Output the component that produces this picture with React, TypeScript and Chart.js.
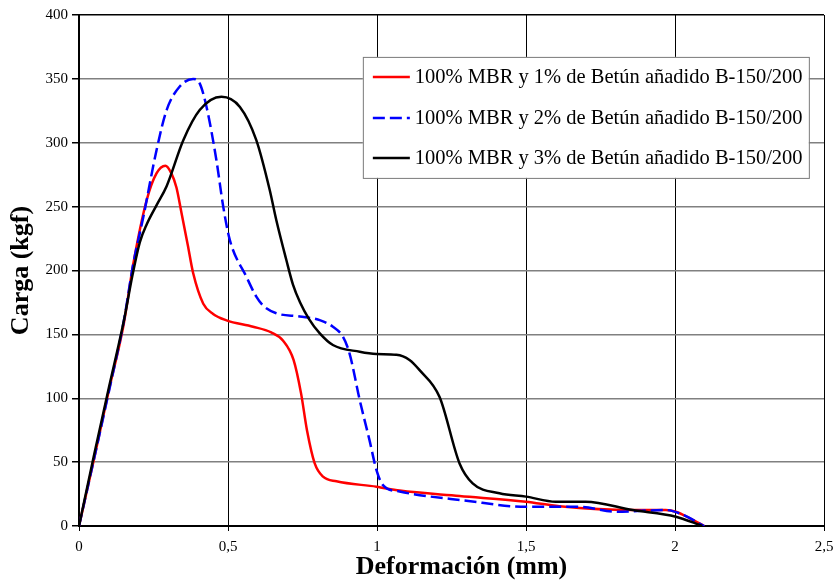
import React, { useEffect, useRef } from "react";
import { Chart, registerables } from "chart.js";
Chart.register(...registerables);

const seriesLabels = [
  "100% MBR y 1% de Betún añadido B-150/200",
  "100% MBR y 2% de Betún añadido B-150/200",
  "100% MBR y 3% de Betún añadido B-150/200",
];
const xTitle = "Deformación (mm)";
const yTitle = "Carga (kgf)";

const mbr1X = [0, 0.05, 0.1, 0.15, 0.182, 0.227, 0.26, 0.29, 0.31, 0.327, 0.344, 0.365, 0.383, 0.417, 0.45, 0.495, 0.584, 0.645, 0.685, 0.72, 0.745, 0.765, 0.791, 0.819, 0.864, 0.998, 1.076, 1.277, 1.5, 1.612, 1.858, 1.969, 2.003, 2.05, 2.098];
const mbr1Y = [0, 52, 106, 158, 205, 255, 276, 282, 276, 265, 245, 220, 198, 174, 166, 161, 156, 151.5, 145, 130, 104, 75, 49, 38.6, 35, 30.8, 27.7, 23.5, 19, 15.5, 12.5, 12.5, 11.2, 6, 0];

const mbr2X = [0, 0.05, 0.1, 0.15, 0.182, 0.216, 0.26, 0.294, 0.338, 0.383, 0.405, 0.428, 0.461, 0.484, 0.506, 0.562, 0.595, 0.62, 0.662, 0.741, 0.81, 0.852, 0.886, 0.908, 0.942, 0.975, 0.998, 1.02, 1.076, 1.3, 1.5, 1.679, 1.802, 1.969, 2.014, 2.098];
const mbr2Y = [0, 52, 105, 160, 205, 242, 294, 325.6, 344, 350, 346.5, 328, 286.5, 250, 224, 195, 179.5, 172, 166.5, 164, 161, 156, 148, 135, 98.6, 67, 44, 32, 27, 19.8, 15, 15, 11.2, 12.5, 10, 0];

const mbr3X = [0, 0.05, 0.1, 0.15, 0.18, 0.204, 0.227, 0.26, 0.294, 0.35, 0.405, 0.478, 0.54, 0.595, 0.64, 0.662, 0.696, 0.718, 0.742, 0.772, 0.808, 0.852, 0.942, 0.998, 1.065, 1.109, 1.143, 1.21, 1.277, 1.321, 1.411, 1.5, 1.6, 1.7, 1.858, 2.003, 2.092];
const mbr3Y = [0, 55, 108, 160, 197, 222, 236, 251, 266, 302, 325.6, 336, 328, 302, 263, 239.5, 208, 189, 175, 162, 150.8, 141.7, 136.4, 134.6, 134, 130, 122, 101, 49, 33.4, 25.6, 23, 19, 19, 12.5, 7.3, 0];

const xTickValues = [0, 0.5, 1, 1.5, 2, 2.5];
const yTickValues = [0, 50, 100, 150, 200, 250, 300, 350, 400];

const colors = ["#ff0000", "#0000ff", "#000000"];
const dashes: number[][] = [[], [12, 5], []];

const toPts = (xs: number[], ys: number[]) => xs.map((x, i) => ({ x, y: ys[i] }));

const legendPlugin = {
  id: "boxLegend",
  afterDraw(chart: any) {
    const ctx = chart.ctx as CanvasRenderingContext2D;
    const ca = chart.chartArea;
    const w = ca.right - ca.left;
    const h = ca.bottom - ca.top;
    const bx = ca.left + w * 0.381;
    const by = ca.top + h * 0.082;
    const bw = 446;
    const bh = 121;
    ctx.save();
    ctx.fillStyle = "#ffffff";
    ctx.fillRect(bx, by, bw, bh);
    ctx.strokeStyle = "#7a7a7a";
    ctx.lineWidth = 1;
    ctx.strokeRect(bx + 0.5, by + 0.5, bw, bh);
    const rows = [20, 61, 101];
    ctx.font = "20.5px 'Liberation Serif'";
    ctx.textBaseline = "middle";
    ctx.textAlign = "left";
    seriesLabels.forEach((lab, i) => {
      const yy = by + rows[i];
      ctx.beginPath();
      ctx.strokeStyle = colors[i];
      ctx.lineWidth = 2.5;
      ctx.setLineDash(dashes[i]);
      ctx.moveTo(bx + 10, yy);
      ctx.lineTo(bx + 47, yy);
      ctx.stroke();
      ctx.setLineDash([]);
      ctx.fillStyle = "#000";
      ctx.fillText(lab, bx + 52, yy + 1);
    });
    // x-axis title
    ctx.font = "bold 26px 'Liberation Serif'";
    ctx.textAlign = "center";
    ctx.textBaseline = "middle";
    ctx.fillText(xTitle, (ca.left + ca.right) / 2 + 10, ca.bottom + 41);
    ctx.restore();
  },
};

export default function App() {
  const ref = useRef<HTMLCanvasElement | null>(null);
  useEffect(() => {
    if (!ref.current) return;
    const xs = [mbr1X, mbr2X, mbr3X];
    const ys = [mbr1Y, mbr2Y, mbr3Y];
    const chart = new Chart(ref.current, {
      type: "line",
      data: {
        datasets: seriesLabels.map((label, i) => ({
          label,
          data: toPts(xs[i], ys[i]),
          borderColor: colors[i],
          borderWidth: 2.5,
          borderDash: dashes[i],
          pointRadius: 0,
          fill: false,
          cubicInterpolationMode: "monotone" as const,
          order: 3 - i,
        })),
      },
      options: {
        animation: false,
        responsive: false,
        maintainAspectRatio: false,
        layout: { padding: { top: 15, right: 13, left: 0, bottom: 0 } },
        plugins: { legend: { display: false }, tooltip: { enabled: false } },
        scales: {
          x: {
            type: "linear",
            min: 0,
            max: 2.5,
            afterFit: (s: any) => { s.height = 60; s.paddingRight = 0; s.paddingLeft = 0; },
            afterBuildTicks: (s: any) => { s.ticks = xTickValues.map((v) => ({ value: v })); },
            ticks: {
              color: "#000",
              font: { family: "'Liberation Serif'", size: 15 },
              padding: 7,
              maxRotation: 0,
              callback: (v: any) => String(v).replace(".", ","),
            },
            grid: { color: "#000", lineWidth: 1, tickLength: 5, tickColor: "#000" },
            border: { color: "#000", width: 2 },
            title: { display: false },
          },
          y: {
            type: "linear",
            min: 0,
            max: 400,
            afterFit: (s: any) => { s.width = 79; s.paddingTop = 0; s.paddingBottom = 0; },
            afterBuildTicks: (s: any) => { s.ticks = yTickValues.map((v) => ({ value: v })); },
            ticks: {
              color: "#000",
              font: { family: "'Liberation Serif'", size: 15 },
              padding: 4,
            },
            grid: {
              color: (c: any) => (c.tick && c.tick.value === 400 ? "#000" : "#808080"),
              lineWidth: 1.5,
              tickLength: 7,
              tickColor: "#000",
            },
            border: { color: "#000", width: 2 },
            title: {
              display: true,
              text: yTitle,
              color: "#000",
              font: { family: "'Liberation Serif'", size: 26, weight: "bold" },
              padding: { top: 6, bottom: 0 },
            },
          },
        },
      },
      plugins: [legendPlugin],
    });
    return () => chart.destroy();
  }, []);
  return (
    <div style={{ position: "fixed", left: 0, top: 0, width: 837, height: 586, background: "#fff" }}>
      <canvas ref={ref} width={837} height={586} style={{ width: 837, height: 586, display: "block" }} />
    </div>
  );
}
